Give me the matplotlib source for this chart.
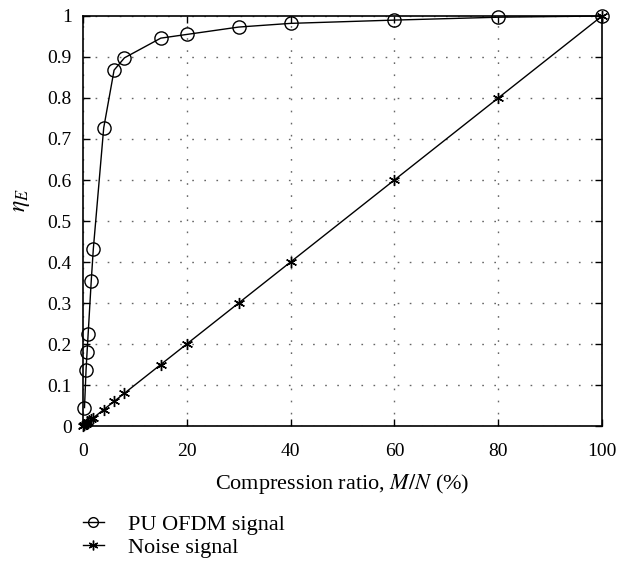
import matplotlib
matplotlib.use("Agg")
import matplotlib.pyplot as plt
from matplotlib.lines import Line2D

# Data
ofdm_x = [0.3, 0.6, 0.8, 1.0, 1.6, 2.0, 4, 6, 8, 15, 20, 30, 40, 60, 80, 100]
ofdm_y = [0.045, 0.137, 0.181, 0.224, 0.354, 0.432, 0.727, 0.868, 0.898, 0.946, 0.955, 0.973, 0.982, 0.990, 0.997, 1.0]
noise_x = [0, 0.3, 0.6, 0.8, 1.0, 1.6, 2.0, 4, 6, 8, 15, 20, 30, 40, 60, 80, 100]
noise_y = [0, 0.003, 0.006, 0.008, 0.010, 0.016, 0.020, 0.04, 0.06, 0.08, 0.15, 0.20, 0.30, 0.40, 0.60, 0.80, 1.0]
xticks = [0, 20, 40, 60, 80, 100]
yticks = [0, 0.1, 0.2, 0.3, 0.4, 0.5, 0.6, 0.7, 0.8, 0.9, 1]
ytick_labels = ['0', '0.1', '0.2', '0.3', '0.4', '0.5', '0.6', '0.7', '0.8', '0.9', '1']

plt.rcParams['font.family'] = ['Liberation Serif', 'DejaVu Serif']
plt.rcParams['mathtext.fontset'] = 'stix'

fig = plt.figure(figsize=(6.38, 5.63), dpi=100)
ax = fig.add_axes([0.130, 0.2433, 0.8136, 0.7283])

ax.plot(ofdm_x, ofdm_y, color='black', lw=1.0, marker='o', markersize=9.5,
        markerfacecolor='none', markeredgecolor='black', markeredgewidth=1.0,
        zorder=3, clip_on=False)
ax.plot(noise_x, noise_y, color='black', lw=1.0, marker=(6, 2, 0), markersize=8,
        markeredgewidth=1.0, zorder=3, clip_on=False)

ax.set_xlim(0, 100)
ax.set_ylim(0, 1)
ax.set_xticks(xticks)
ax.set_xticklabels([str(t) for t in xticks])
ax.set_yticks(yticks)
ax.set_yticklabels(ytick_labels)
ax.grid(True, linestyle=(0, (1.2, 7.5)), color='#666666', linewidth=1.0)
ax.tick_params(direction='in', top=True, right=True, length=5, width=1.0,
               labelsize=14)
ax.tick_params(axis='x', pad=12)
ax.tick_params(axis='y', pad=8)
for s in ax.spines.values():
    s.set_linewidth(1.2)
    s.set_zorder(4)

ax.set_xlabel('Compression ratio, $M/N$ (%)', fontsize=16, labelpad=9)
fig.text(22 / 638, 1 - 200 / 563, '$\\eta_E$', fontsize=17, rotation=90,
         ha='center', va='center')

handles = [
    Line2D([], [], color='black', lw=1.0, marker='o', markersize=7,
           markerfacecolor='none', markeredgecolor='black'),
    Line2D([], [], color='black', lw=1.0, marker=(6, 2, 0), markersize=7),
]
fig.legend(handles, ['PU OFDM signal', 'Noise signal'], loc='upper left',
           bbox_to_anchor=(0.130, 0.087), frameon=False, fontsize=16,
           handlelength=0.95, handletextpad=1.1, labelspacing=0.12,
           borderaxespad=0, borderpad=0)

fig.savefig('out.png', dpi=100)
